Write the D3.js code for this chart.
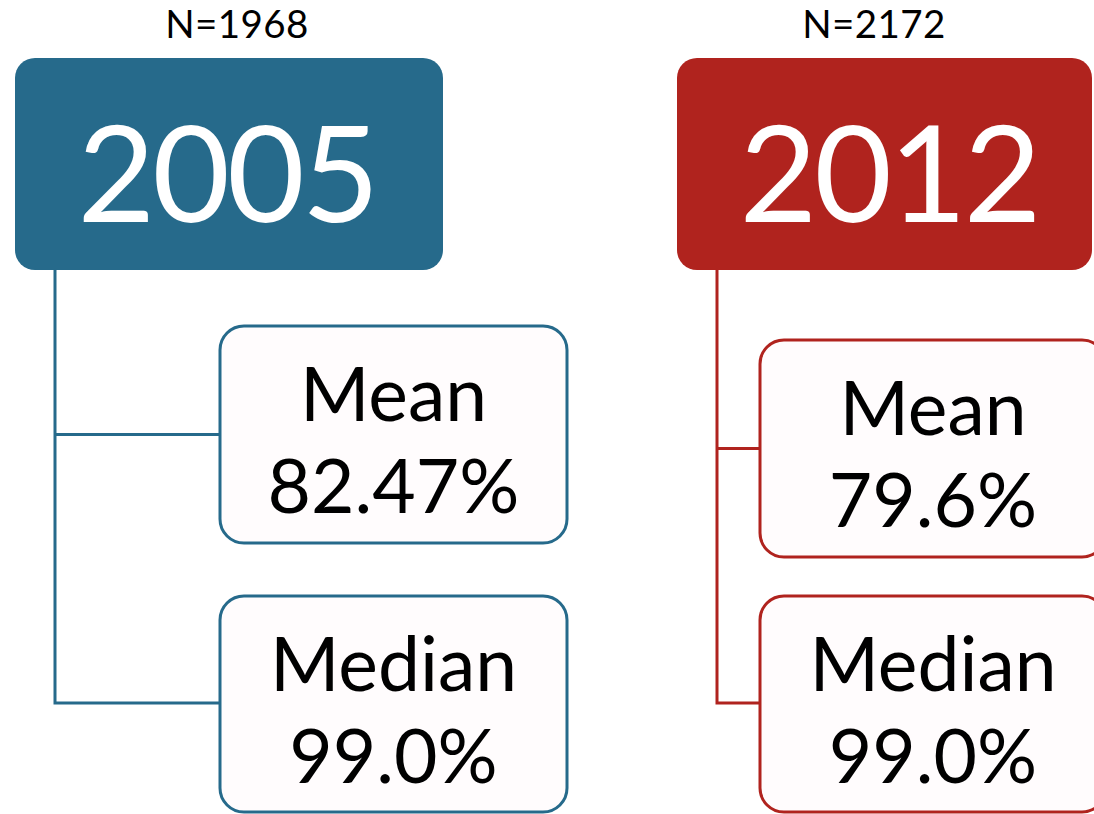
<!DOCTYPE html>
<html>
<head>
<meta charset="utf-8">
<script src="https://cdn.jsdelivr.net/npm/d3@7.9.0/dist/d3.min.js"></script>
<style>
  html, body { margin: 0; padding: 0; background: #fff; overflow: hidden; }
  svg { display: block; font-family: Lato, "Open Sans", sans-serif; }
</style>
</head>
<body>
<svg id="chart" width="1094" height="814"></svg>
<script>
// data
const years = ['2005', '2012'];
const sampleSizes = [1968, 2172];
const means = ['82.47%', '79.6%'];
const medians = ['99.0%', '99.0%'];
const colors = ['#266a8b', '#b0231e'];

// layout per column (hand placed like the original)
const layout = [
  { head: [15, 443], nX: 237, yearX: 227, stem: 55, box: [220, 567], meanY: [326, 543], medY: [596, 812] },
  { head: [677, 1092], nX: 874, yearX: 889, stem: 717, box: [760, 1106], meanY: [340, 557], medY: [596, 812] }
];

const svg = d3.select('#chart');

years.forEach((yr, i) => {
  const L = layout[i];
  const c = colors[i];
  const g = svg.append('g');

  // N label
  g.append('text')
    .attr('x', L.nX)
    .attr('y', 38)
    .attr('text-anchor', 'middle')
    .attr('font-size', 38.5)
    .attr('letter-spacing', 0.4)
    .attr('fill', '#000')
    .text(`N=${sampleSizes[i]}`);

  // header box
  g.append('rect')
    .attr('x', L.head[0])
    .attr('y', 58)
    .attr('width', L.head[1] - L.head[0])
    .attr('height', 212)
    .attr('rx', 20)
    .attr('fill', c);

  g.append('text')
    .attr('x', L.yearX)
    .attr('y', 222)
    .attr('text-anchor', 'middle')
    .attr('font-size', 134)
    .attr('letter-spacing', -3)
    .attr('fill', '#fff')
    .text(yr);

  // connectors
  const meanMid = (L.meanY[0] + L.meanY[1]) / 2;
  const medMid = 703;
  g.append('path')
    .attr('d', `M${L.stem},270V${medMid}H${L.box[0]}M${L.stem},${meanMid}H${L.box[0]}`)
    .attr('fill', 'none')
    .attr('stroke', c)
    .attr('stroke-width', 3);

  // stat boxes
  const stats = [
    { label: 'Mean', value: means[i], ys: L.meanY },
    { label: 'Median', value: medians[i], ys: L.medY }
  ];
  stats.forEach(s => {
    g.append('rect')
      .attr('x', L.box[0])
      .attr('y', s.ys[0])
      .attr('width', L.box[1] - L.box[0])
      .attr('height', s.ys[1] - s.ys[0])
      .attr('rx', 24)
      .attr('fill', '#fffcfd')
      .attr('stroke', c)
      .attr('stroke-width', 3);
    const cx = (L.box[0] + L.box[1]) / 2;
    const top = s.ys[0];
    g.append('text')
      .attr('x', cx)
      .attr('y', top + 95)
      .attr('text-anchor', 'middle')
      .attr('font-size', 75)
      .attr('fill', '#000')
      .text(s.label);
    g.append('text')
      .attr('x', cx)
      .attr('y', top + 187)
      .attr('text-anchor', 'middle')
      .attr('font-size', 75)
      .attr('fill', '#000')
      .text(s.value);
  });
});
</script>
</body>
</html>
